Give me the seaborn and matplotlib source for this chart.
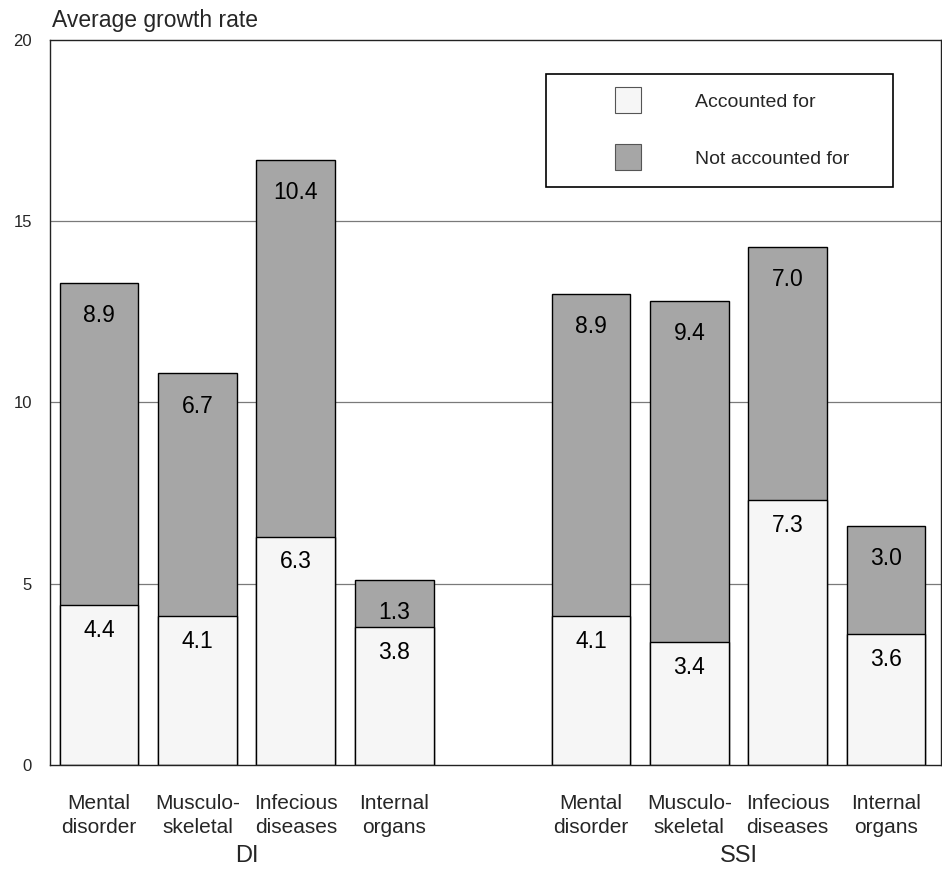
import matplotlib
matplotlib.use("Agg")
import matplotlib.pyplot as plt
from matplotlib.lines import Line2D
import pandas as pd
import seaborn as sns

# Category labels and the two programme groups
categories = ["Mental\ndisorder", "Musculo-\nskeletal", "Infecious\ndiseases", "Internal\norgans"]
groups = ["DI", "SSI"]

# Average growth rate, split into the part accounted for and the remainder
accounted_di = [4.4, 4.1, 6.3, 3.8]
not_accounted_di = [8.9, 6.7, 10.4, 1.3]
accounted_ssi = [4.1, 3.4, 7.3, 3.6]
not_accounted_ssi = [8.9, 9.4, 7.0, 3.0]

y_ticks = [0, 5, 10, 15, 20]

rows = []
for grp, acc, rest in [("DI", accounted_di, not_accounted_di),
                       ("SSI", accounted_ssi, not_accounted_ssi)]:
    for cat, a, r in zip(categories, acc, rest):
        rows.append({"slot": f"{grp}:{cat}", "group": grp, "category": cat,
                     "accounted": a, "not_accounted": r, "total": a + r})
df = pd.DataFrame(rows)

# an empty slot separates the two groups
order = [f"DI:{c}" for c in categories] + ["gap"] + [f"SSI:{c}" for c in categories]
pos = {s: i for i, s in enumerate(order)}

sns.set_theme(style="white")
plt.rcParams["font.family"] = ["Liberation Sans", "DejaVu Sans"]

LIGHT = "#f6f6f6"
DARK = "#a6a6a6"

fig = plt.figure(figsize=(9.42, 8.89), dpi=100)
ax = fig.add_axes([0.053, 0.1395, 0.946, 0.8155])

# full stack height first, then the accounted-for part on top of it
sns.barplot(data=df, x="slot", y="total", order=order, color=DARK, saturation=1,
            edgecolor="black", linewidth=1.0, width=0.8, errorbar=None, ax=ax)
sns.barplot(data=df, x="slot", y="accounted", order=order, color=LIGHT, saturation=1,
            edgecolor="black", linewidth=1.0, width=0.8, errorbar=None, ax=ax)

for _, r in df.iterrows():
    x = pos[r["slot"]]
    ax.text(x, r["accounted"] - 0.7, f"{r['accounted']:.1f}", ha="center", va="center",
            fontsize=16.5, color="black")
    ax.text(x, r["total"] - 0.9, f"{r['not_accounted']:.1f}", ha="center", va="center",
            fontsize=16.5, color="black")

ax.set_ylim(0, 20)
ax.set_xlim(-0.5, 8.56)
ax.set_yticks(y_ticks)
ax.set_yticklabels([str(t) for t in y_ticks], fontsize=12)
ax.set_xticks([pos[s] for s in order if s != "gap"])
ax.set_xticklabels([s.split(":", 1)[1] for s in order if s != "gap"],
                   fontsize=15, linespacing=1.35)
ax.tick_params(axis="x", length=0, pad=21)
ax.tick_params(axis="y", length=0, pad=13)
ax.set_xlabel("")
ax.set_ylabel("")

ax.grid(False)
for t in [5, 10, 15]:
    ax.axhline(t, color="#7a7a7a", linewidth=0.9, zorder=0)
for side in ["left", "right", "top", "bottom"]:
    ax.spines[side].set_visible(True)
    ax.spines[side].set_color("#222222")
    ax.spines[side].set_linewidth(1.0)

# group captions under the category labels
for i, grp in enumerate(groups):
    xs = [pos[f"{grp}:{c}"] for c in categories]
    ax.text(sum(xs) / len(xs), -0.125, grp, transform=ax.get_xaxis_transform(),
            ha="center", va="center", fontsize=17)

fig.text(0.055, 0.977, "Average growth rate", ha="left", va="center", fontsize=16.5)

handles = [
    Line2D([], [], marker="s", linestyle="none", markersize=18.5,
           markerfacecolor=LIGHT, markeredgecolor="#555555", markeredgewidth=0.8),
    Line2D([], [], marker="s", linestyle="none", markersize=18.5,
           markerfacecolor=DARK, markeredgecolor="#555555", markeredgewidth=0.8),
]
leg = ax.legend(handles, ["Accounted for", "Not accounted for"],
                loc="upper left", bbox_to_anchor=(0.557, 0.8, 0.389, 0.153),
                mode="expand", borderaxespad=0, fontsize=14,
                handlelength=6.4, handletextpad=0.27, borderpad=1.0,
                labelspacing=2.0, frameon=True, fancybox=False)
leg.get_frame().set_edgecolor("black")
leg.get_frame().set_linewidth(1.2)
leg.get_frame().set_facecolor("white")
leg.get_frame().set_alpha(1)

fig.savefig("out.png", dpi=100, facecolor="white")
